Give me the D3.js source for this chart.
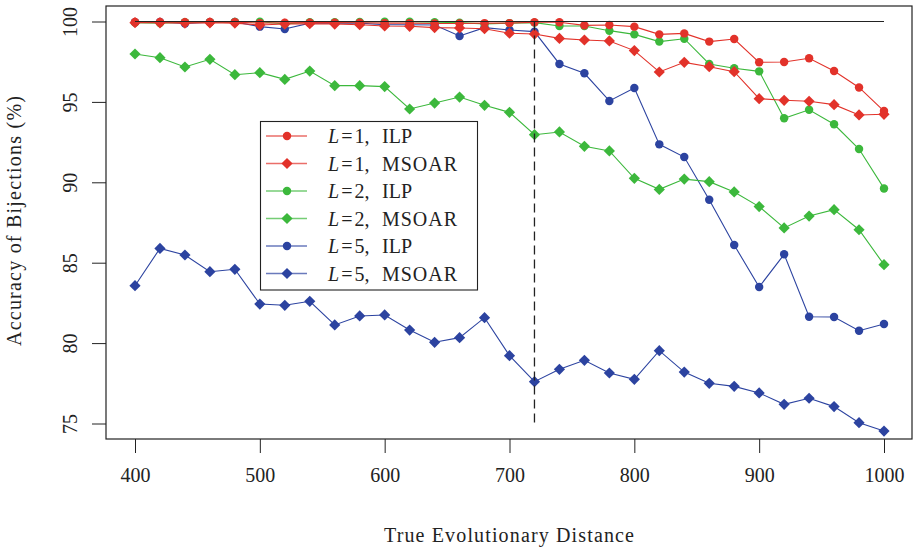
<!DOCTYPE html>
<html><head><meta charset="utf-8">
<script src="https://cdn.jsdelivr.net/npm/d3@7"></script>
<style>body{margin:0;background:#fff}svg{display:block}text{font-family:"Liberation Serif","Times New Roman",serif;fill:#222}</style>
</head><body><svg id="c" width="917" height="548"></svg>
<script>
const distances = d3.range(400, 1001, 20);
const l1ILP   = [99.97,99.97,99.96,99.97,99.96,99.9,99.92,99.93,99.93,99.92,99.9,99.9,99.88,99.88,99.9,99.9,99.95,99.95,99.76,99.78,99.68,99.2,99.26,98.75,98.91,97.46,97.48,97.71,96.92,95.9,94.43];
const l1MSOAR = [99.93,99.92,99.9,99.92,99.9,99.78,99.84,99.86,99.84,99.8,99.72,99.7,99.62,99.6,99.55,99.27,99.22,98.95,98.85,98.79,98.19,96.86,97.46,97.19,96.88,95.2,95.1,95.04,94.83,94.19,94.23];
const l2ILP   = [99.93,99.9,99.95,99.95,99.97,99.98,99.85,99.95,99.95,99.97,99.98,99.98,99.95,99.93,99.85,99.9,99.93,99.72,99.72,99.43,99.2,98.75,98.93,97.36,97.09,96.9,93.98,94.51,93.61,92.07,89.62];
const l2MSOAR = [97.98,97.75,97.17,97.65,96.69,96.82,96.4,96.92,96.01,96.01,95.95,94.56,94.93,95.3,94.79,94.35,92.96,93.13,92.24,91.95,90.25,89.56,90.2,90.04,89.4,88.49,87.16,87.9,88.3,87.05,84.88];
const l5ILP   = [99.95,99.97,99.88,99.95,99.97,99.68,99.53,99.9,99.9,99.9,99.8,99.8,99.78,99.1,99.62,99.47,99.37,97.36,96.78,95.06,95.86,92.36,91.57,88.92,86.1,83.49,85.52,81.64,81.62,80.77,81.19];
const l5MSOAR = [83.57,85.89,85.48,84.44,84.59,82.43,82.35,82.6,81.13,81.69,81.75,80.81,80.05,80.34,81.58,79.22,77.6,78.37,78.93,78.14,77.75,79.53,78.2,77.5,77.31,76.9,76.19,76.57,76.05,75.05,74.53];
const xTicks = [400,500,600,700,800,900,1000];
const yTicks = [75,80,85,90,95,100];
const seriesL = ["1","1","2","2","5","5"];
const seriesM = ["ILP","MSOAR","ILP","MSOAR","ILP","MSOAR"];
const refLine = 100, markX = 720;

const red="#e2322a", green="#3cb83c", blue="#2c43a0";
const series = [
  {v:l1ILP, c:red, s:"circle"},{v:l1MSOAR, c:red, s:"diamond"},
  {v:l2ILP, c:green, s:"circle"},{v:l2MSOAR, c:green, s:"diamond"},
  {v:l5ILP, c:blue, s:"circle"},{v:l5MSOAR, c:blue, s:"diamond"}];

const svg = d3.select("#c");
const box = {l:106, r:912, t:6, b:439};
const x = d3.scaleLinear().domain([400,1000]).range([135,884]);
const y = d3.scaleLinear().domain([75,100]).range([423.5,21.5]);

const xa = svg.append("g").attr("transform",`translate(0,${box.b})`)
  .call(d3.axisBottom(x).tickValues(xTicks).tickSize(14).tickPadding(8).tickFormat(d3.format("d")));
const ya = svg.append("g").attr("transform",`translate(${box.l},0)`)
  .call(d3.axisLeft(y).tickValues(yTicks).tickSize(14).tickPadding(8).tickFormat(d3.format("d")));
[xa,ya].forEach(a=>{a.select(".domain").remove();a.selectAll("line").attr("stroke","#222");a.selectAll("text").attr("font-size",20).attr("font-family","Liberation Serif, serif").attr("fill","#222");});
ya.selectAll(".tick").each(function(){
  d3.select(this).select("text").attr("x",null).attr("dy",null).attr("text-anchor","middle")
    .attr("transform","translate(-29,0) rotate(-90)");
});
xa.selectAll(".tick text").attr("dy","1.05em");

svg.append("rect").attr("x",box.l).attr("y",box.t).attr("width",box.r-box.l).attr("height",box.b-box.t)
  .attr("fill","none").attr("stroke","#222").attr("stroke-width",1.2);

const diamond = r => `M0,${-r}L${r},0L0,${r}L${-r},0Z`;
const sym = {circle:d3.symbol().type(d3.symbolCircle).size(56)(), diamond:diamond(5.6)};
const line = d3.line().x((d,i)=>x(distances[i])).y(d=>y(d));
[5,4,3,2,1,0].forEach(k=>{
  const s=series[k];
  svg.append("path").attr("d",line(s.v)).attr("fill","none").attr("stroke",s.c).attr("stroke-width",1.1);
  svg.append("g").selectAll("path").data(s.v).join("path")
    .attr("transform",(d,i)=>`translate(${x(distances[i])},${y(d)})`)
    .attr("d",sym[s.s]).attr("fill",s.c);
});

svg.append("line").attr("x1",x(400)).attr("x2",x(1000)).attr("y1",y(refLine)).attr("y2",y(refLine)).attr("stroke","#222").attr("stroke-width",1.1);
svg.append("line").attr("x1",x(markX)).attr("x2",x(markX)).attr("y1",y(100)).attr("y2",y(75)).attr("stroke","#222").attr("stroke-width",1.3).attr("stroke-dasharray","9,5");

const lg = svg.append("g");
lg.append("rect").attr("x",260.5).attr("y",121.5).attr("width",217).attr("height",168.5).attr("fill","#fff").attr("stroke","#222").attr("stroke-width",1.1);
seriesM.forEach((m,i)=>{
  const yy=136+i*27.5, s=series[i];
  lg.append("line").attr("x1",266).attr("x2",307).attr("y1",yy).attr("y2",yy).attr("stroke",s.c).attr("stroke-width",1.4).attr("opacity",0.7);
  lg.append("path").attr("transform",`translate(287,${yy})`).attr("d",sym[s.s]).attr("fill",s.c);
  const t=lg.append("text").attr("x",328).attr("y",yy+7).attr("font-size",20);
  t.append("tspan").attr("font-style","italic").text("L");
  t.append("tspan").attr("dx",2).text("=");
  t.append("tspan").attr("dx",2).text(seriesL[i] + ",");
  const w = lg.append("text").attr("x",382).attr("y",yy+7).attr("font-size",20).text(m);
  if (m==="MSOAR") w.attr("textLength",75).attr("lengthAdjust","spacing");
});

svg.append("text").attr("x",509).attr("y",542).attr("text-anchor","middle").attr("font-size",20)
  .attr("textLength",250).attr("lengthAdjust","spacing").text("True Evolutionary Distance");
svg.append("text").attr("transform","translate(21,221) rotate(-90)").attr("text-anchor","middle").attr("font-size",20)
  .attr("textLength",250).attr("lengthAdjust","spacing").text("Accuracy of Bijections (%)");
</script></body></html>
